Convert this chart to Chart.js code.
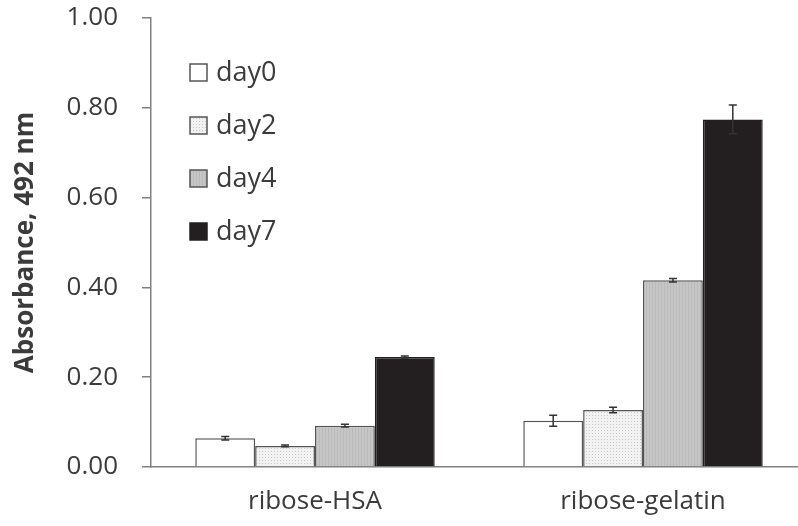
<!DOCTYPE html>
<html>
<head>
<meta charset="utf-8">
<script src="https://cdn.jsdelivr.net/npm/chart.js@4/dist/chart.umd.min.js"></script>
<style>
  html, body { margin: 0; padding: 0; background: #fff; overflow: hidden; }
  #wrap { width: 808px; height: 526px; }
</style>
</head>
<body>
<div id="wrap"><canvas id="absChart"></canvas></div>
<script>
// data
const categories = ['ribose-HSA', 'ribose-gelatin'];
const seriesNames = ['day0', 'day2', 'day4', 'day7'];
const day0 = [0.064, 0.103];
const day2 = [0.047, 0.127];
const day4 = [0.092, 0.416];
const day7 = [0.245, 0.774];
const day0Err = [0.004, 0.012];
const day2Err = [0.002, 0.006];
const day4Err = [0.003, 0.004];
const day7Err = [0.002, 0.032];
const yTicks = [0, 0.2, 0.4, 0.6, 0.8, 1.0];

const textColor = '#3b3b3b';
const edgeColor = '#555555';

// fill patterns
function dotPattern() {
  const c = document.createElement('canvas');
  c.width = 3; c.height = 3;
  const g = c.getContext('2d');
  g.fillStyle = '#f2f2f2';
  g.fillRect(0, 0, 3, 3);
  g.fillStyle = '#c8c8c8';
  g.fillRect(1, 1, 1, 1);
  return g.createPattern(c, 'repeat');
}
function stripePattern() {
  const c = document.createElement('canvas');
  c.width = 3; c.height = 3;
  const g = c.getContext('2d');
  g.fillStyle = '#c6c6c6';
  g.fillRect(0, 0, 3, 3);
  g.fillStyle = '#bababa';
  g.fillRect(1, 0, 1, 3);
  return g.createPattern(c, 'repeat');
}

const fills = ['#ffffff', dotPattern(), stripePattern(), '#231f20'];
const values = [day0, day2, day4, day7];
const errors = [day0Err, day2Err, day4Err, day7Err];

const datasets = seriesNames.map((name, i) => ({
  label: name,
  data: values[i],
  backgroundColor: fills[i],
  borderColor: i === 3 ? '#231f20' : edgeColor,
  borderWidth: 1.5,
  borderSkipped: 'bottom',
  categoryPercentage: 0.73,
  barPercentage: 1.0,
}));

// error bars
const errorBars = {
  id: 'errorBars',
  afterDatasetsDraw(chart) {
    const ctx = chart.ctx;
    const y = chart.scales.y;
    ctx.save();
    ctx.strokeStyle = '#333333';
    ctx.lineWidth = 1.5;
    chart.data.datasets.forEach((ds, i) => {
      const meta = chart.getDatasetMeta(i);
      meta.data.forEach((bar, j) => {
        const v = ds.data[j];
        const e = errors[i][j];
        const top = y.getPixelForValue(v + e);
        const bot = y.getPixelForValue(v - e);
        ctx.beginPath();
        ctx.moveTo(bar.x, top);
        ctx.lineTo(bar.x, bot);
        ctx.moveTo(bar.x - 4, top);
        ctx.lineTo(bar.x + 4, top);
        ctx.moveTo(bar.x - 4, bot);
        ctx.lineTo(bar.x + 4, bot);
        ctx.stroke();
      });
    });
    ctx.restore();
  }
};

// legend drawn inside the plot area
const insideLegend = {
  id: 'insideLegend',
  afterDraw(chart) {
    const ctx = chart.ctx;
    const area = chart.chartArea;
    ctx.save();
    ctx.font = '27px "Open Sans"';
    ctx.textBaseline = 'middle';
    chart.data.datasets.forEach((ds, i) => {
      const bx = area.left + 39;
      const cy = area.top + 54 + i * 53;
      ctx.fillStyle = ds.backgroundColor;
      ctx.fillRect(bx, cy - 8, 17, 17);
      ctx.strokeStyle = i === 3 ? '#231f20' : edgeColor;
      ctx.lineWidth = 1.5;
      ctx.strokeRect(bx, cy - 8, 17, 17);
      ctx.fillStyle = textColor;
      ctx.fillText(ds.label, bx + 26, cy + 1);
    });
    ctx.restore();
  }
};

new Chart(document.getElementById('absChart'), {
  type: 'bar',
  data: { labels: categories, datasets: datasets },
  plugins: [errorBars, insideLegend],
  options: {
    responsive: true,
    maintainAspectRatio: false,
    animation: false,
    layout: { padding: { top: 18, right: 1, left: 0, bottom: 0 } },
    plugins: {
      legend: { display: false },
      tooltip: { enabled: false },
    },
    scales: {
      x: {
        grid: { display: false },
        border: { color: '#808080', width: 1.5 },
        ticks: { color: textColor, font: { family: 'Open Sans', size: 26 }, padding: 11 },
        afterFit(scale) { scale.height = 59; },
      },
      y: {
        min: 0,
        max: 1,
        afterBuildTicks(scale) { scale.ticks = yTicks.map(v => ({ value: v })); },
        grid: { drawOnChartArea: false, color: '#808080', lineWidth: 1.5, tickLength: 9 },
        border: { color: '#808080', width: 1.5 },
        ticks: {
          color: textColor,
          font: { family: 'Open Sans', size: 26 },
          padding: 24,
          callback: v => v.toFixed(2),
        },
        title: {
          display: true,
          text: 'Absorbance, 492 nm',
          color: textColor,
          font: { family: 'Open Sans', size: 26, weight: 'bold' },
          padding: { top: 10, bottom: 0 },
        },
        afterFit(scale) {
          scale.width = 151;
          scale.paddingTop = 18;
          scale.paddingBottom = 18;
        },
      },
    },
  },
});
</script>
</body>
</html>
